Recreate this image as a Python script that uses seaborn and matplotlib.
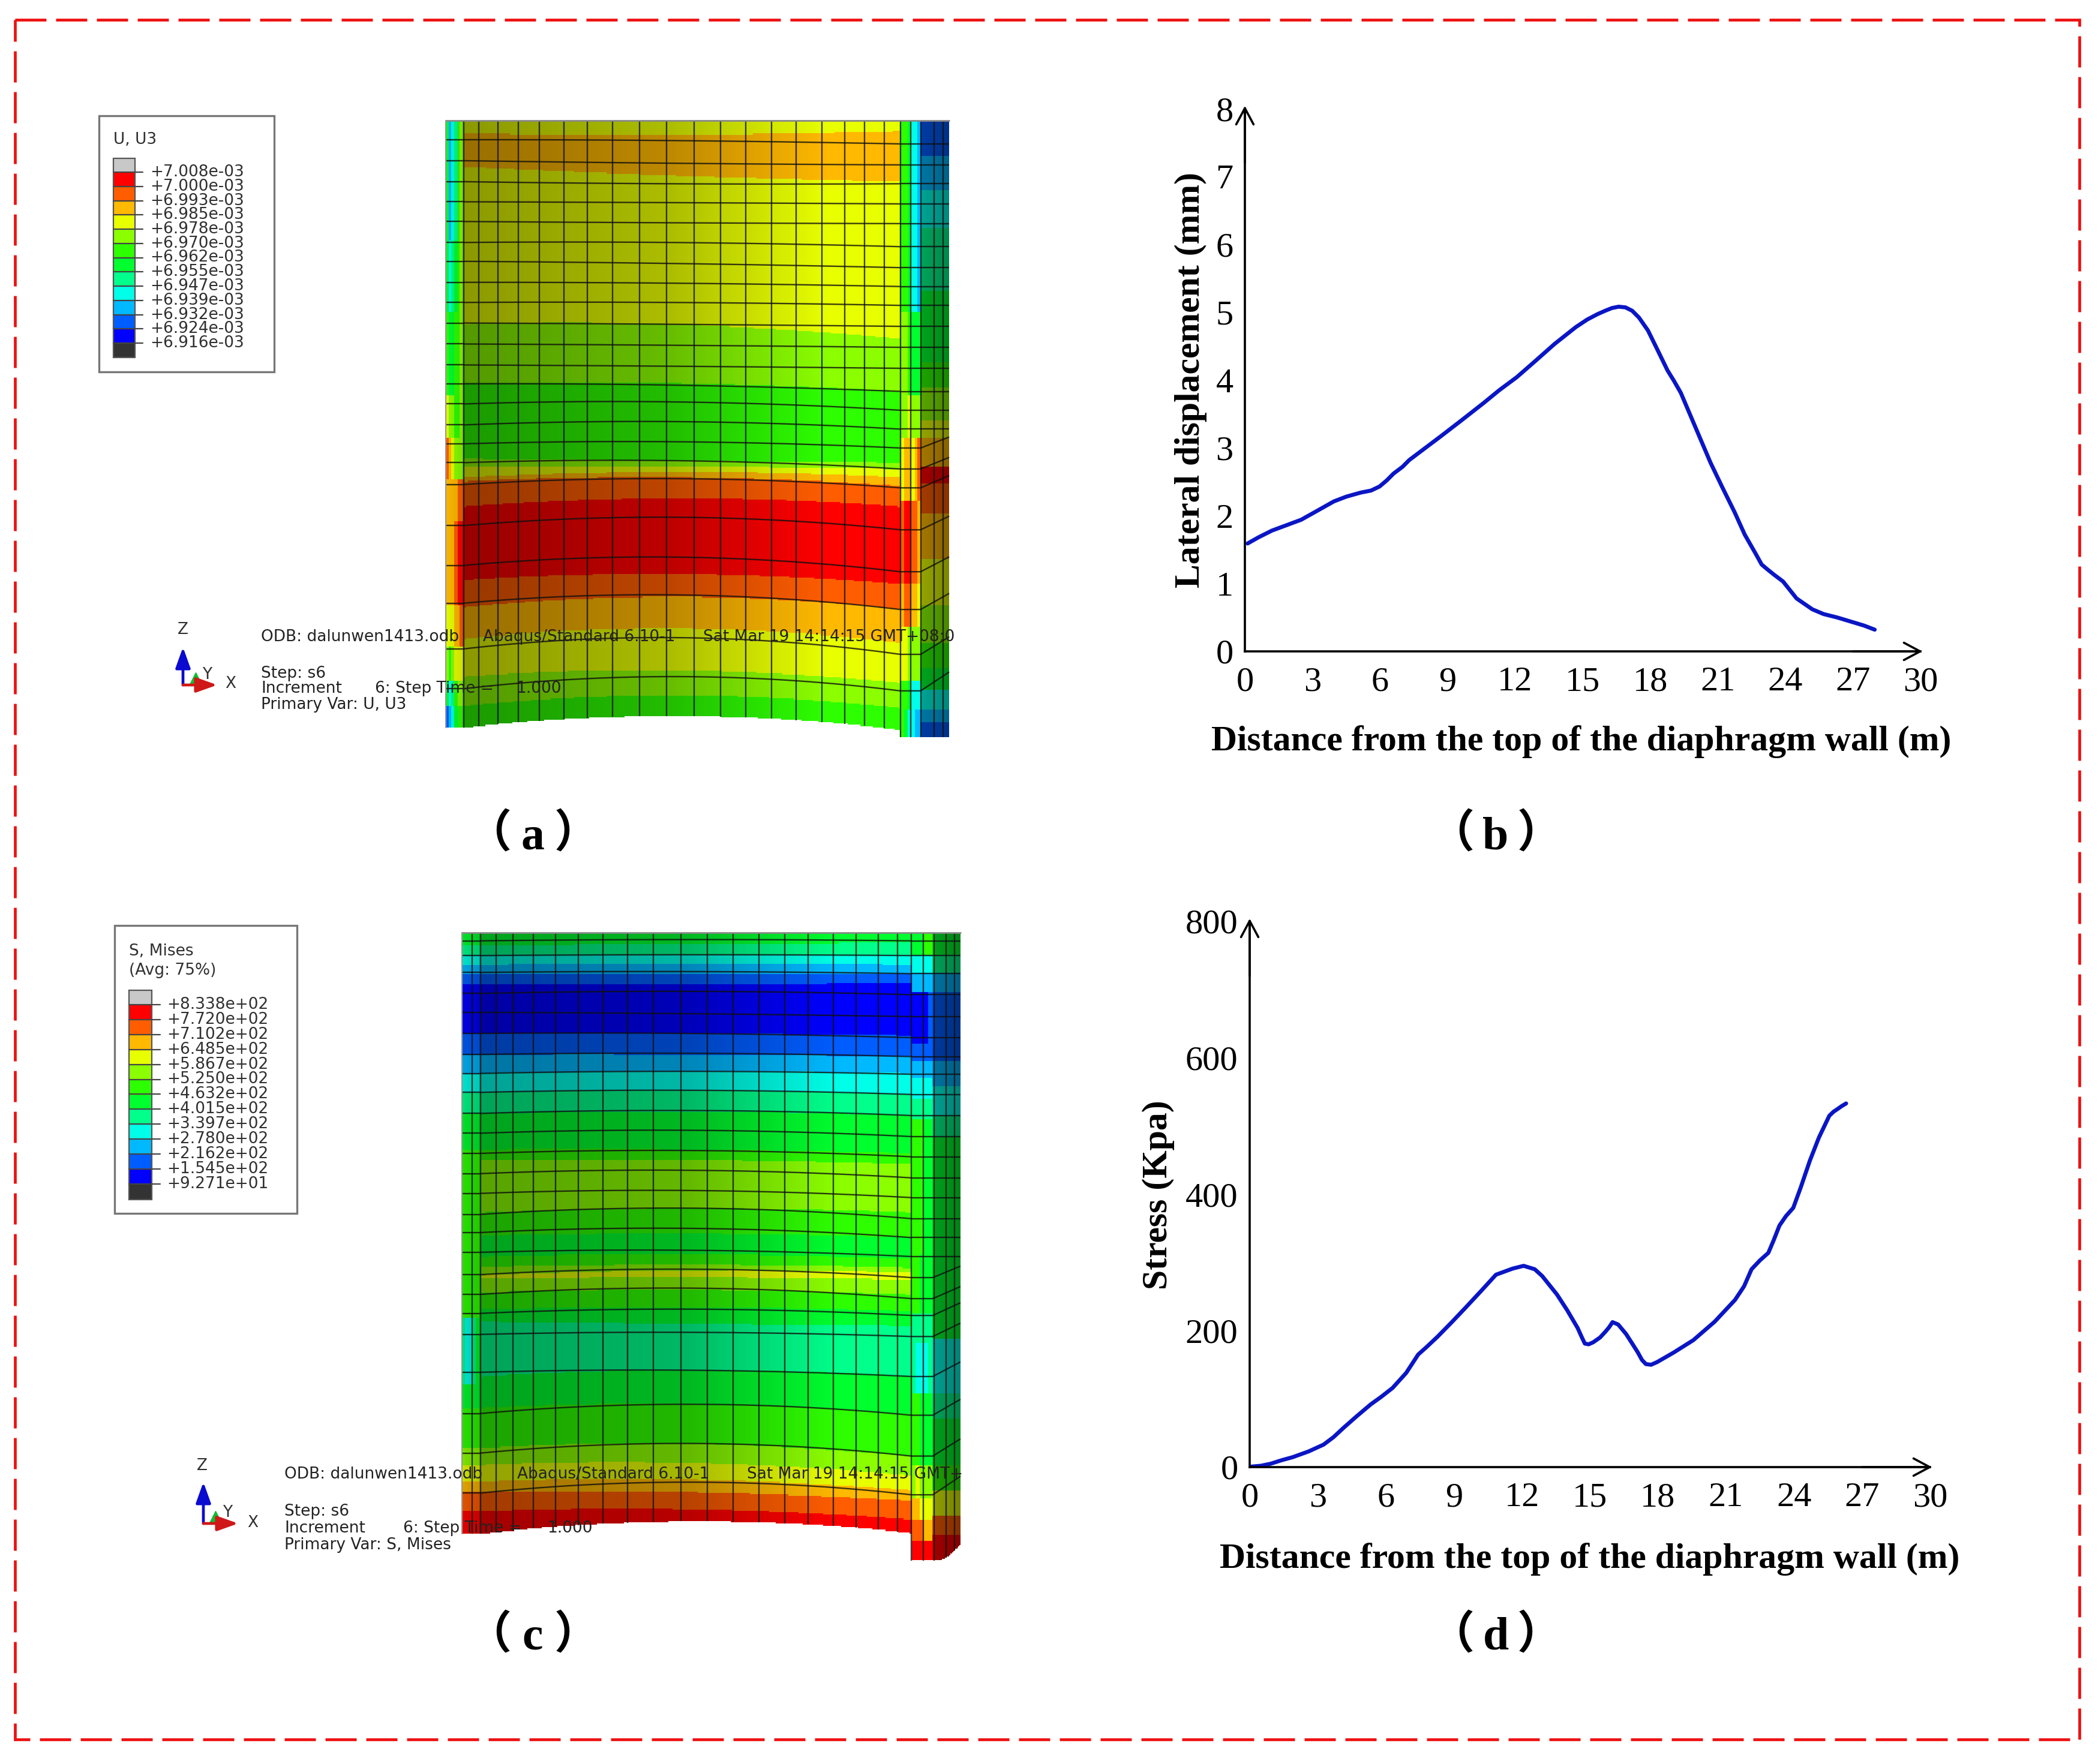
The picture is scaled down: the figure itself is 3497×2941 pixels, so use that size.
import numpy as np
import matplotlib
matplotlib.use("Agg")
import matplotlib.pyplot as plt
from matplotlib.colors import ListedColormap, LinearSegmentedColormap
from matplotlib.patches import Rectangle
import seaborn as sns

sns.set_theme(style="white")
plt.rcParams['font.family'] = ['Liberation Serif', 'DejaVu Sans']

# ---------- curve data ----------
dist_b = [0.12, 0.6, 1.2, 1.85, 2.5, 3.2, 3.95, 4.5, 5.14, 5.6, 5.98, 6.3, 6.6, 7.0, 7.3, 7.9, 8.7, 9.6, 10.6, 11.3,
          12.07, 12.9, 13.75, 14.7, 15.2, 15.66, 16.0, 16.3, 16.6, 16.9, 17.2, 17.5, 17.9, 18.3, 18.77, 19.05, 19.36,
          20.0, 20.68, 21.2, 21.75, 22.2, 22.7, 22.95, 23.2, 23.5, 23.9, 24.5, 25.2, 25.7, 26.3, 26.9, 27.5, 27.97]
disp_b = [1.59, 1.68, 1.78, 1.86, 1.94, 2.07, 2.21, 2.28, 2.34, 2.37, 2.43, 2.52, 2.62, 2.72, 2.82, 2.97, 3.17, 3.4, 3.66, 3.85,
          4.04, 4.28, 4.53, 4.78, 4.89, 4.97, 5.02, 5.06, 5.08, 5.07, 5.02, 4.92, 4.73, 4.46, 4.14, 3.99, 3.81,
          3.31, 2.78, 2.42, 2.05, 1.72, 1.43, 1.28, 1.21, 1.13, 1.03, 0.78, 0.62, 0.55, 0.5, 0.44, 0.38, 0.32]
dist_d = [0.07, 0.5, 0.93, 1.4, 1.9, 2.6, 3.26, 3.7, 4.12, 4.7, 5.34, 5.8, 6.3, 6.9, 7.43, 7.8, 8.28, 8.9, 9.5, 10.2,
          10.86, 11.6, 12.08, 12.57, 12.9, 13.55, 14.0, 14.46, 14.65, 14.78, 14.95, 15.15, 15.45, 15.7, 15.85, 16.0,
          16.25, 16.6, 17.1, 17.3, 17.47, 17.7, 17.97, 18.7, 19.56, 20.5, 21.4, 21.8, 22.13, 22.5, 22.87, 23.1, 23.36,
          23.65, 23.97, 24.3, 24.7, 25.1, 25.56, 25.75, 25.93, 26.1, 26.3]
stress_d = [0.7, 2, 5, 10, 14.6, 23, 33, 44, 57, 74, 92, 103, 116, 138, 165, 176, 191, 212, 233, 258,
            282, 291, 295, 290, 280, 253, 230, 204, 190, 181, 180, 183, 190, 199, 205, 212.5,
            209, 195, 169, 157, 151, 150, 154, 168, 186, 213, 245, 265, 290, 303, 314, 332, 354,
            368, 380, 410, 449, 483, 515, 521, 525, 529, 533]
xticks_all = [0, 3, 6, 9, 12, 15, 18, 21, 24, 27, 30]
yticks_b = [0, 1, 2, 3, 4, 5, 6, 7, 8]
yticks_d = [0, 200, 400, 600, 800]
xlabel_txt = "Distance from the top of the diaphragm wall (m)"

# ---------- contour legends ----------
abaqus_colors = ['#0000ff', '#005dff', '#00b9ff', '#00ffe8', '#00ff8b', '#00ff2e',
                 '#2eff00', '#8bff00', '#e8ff00', '#ffb900', '#ff5d00', '#ff0000']
legend_a = ['+7.008e-03', '+7.000e-03', '+6.993e-03', '+6.985e-03', '+6.978e-03', '+6.970e-03', '+6.962e-03',
            '+6.955e-03', '+6.947e-03', '+6.939e-03', '+6.932e-03', '+6.924e-03', '+6.916e-03']
legend_c = ['+8.338e+02', '+7.720e+02', '+7.102e+02', '+6.485e+02', '+5.867e+02', '+5.250e+02', '+4.632e+02',
            '+4.015e+02', '+3.397e+02', '+2.780e+02', '+2.162e+02', '+1.545e+02', '+9.271e+01']

# ---------- contour field (a): band level and its top edge at wall left / centre / right ----------
levels_a = [8, 9, 8, 7, 6, 7, 8, 9, 10, 11, 10, 9, 8, 7, 6]
edge_L_a = [45, 75, 155, 530, 670, 850, 870, 895, 905, 965, 1140, 1205, 1280, 1370, 1440, 1600]
edge_C_a = [45, 78, 175, 530, 670, 855, 870, 882, 895, 945, 1125, 1180, 1255, 1355, 1415, 1600]
edge_R_a = [45, 70, 190, 565, 690, 860, 875, 895, 915, 965, 1150, 1210, 1290, 1385, 1445, 1600]
left_x_a = [72, 80, 88, 96, 104, 112, 122]
left_y_a = [330, 500, 700, 800, 900, 1000, 1200, 1300, 1380, 1440, 1530]
left_lv_a = [[5, 2, 3, 4, 6, 7], [5, 3, 4, 5, 6, 7], [6, 5, 5, 6, 6, 7], [8, 7, 7, 6, 6, 7], [10, 9, 8, 7, 7, 7],
             [9, 9, 9, 9, 10, 10], [9, 9, 9, 10, 11, 11], [8, 8, 8, 9, 9, 10], [7, 6, 7, 8, 8, 8],
             [5, 3, 4, 6, 7, 7], [1, 2, 3, 5, 6, 6]]
front_x_a = [1345, 1355, 1365, 1375, 1385, 1393, 1402]
front_y_a = [500, 700, 800, 950, 1150, 1250, 1380, 1450, 1530]
front_lv_a = [[6, 6, 5, 3, 3, 2], [7, 7, 6, 5, 5, 5], [7, 7, 8, 7, 7, 7], [8, 9, 9, 8, 9, 10], [10, 11, 11, 10, 10, 9],
              [9, 10, 10, 9, 9, 8], [8, 8, 7, 7, 7, 7], [6, 6, 5, 3, 3, 3], [6, 5, 3, 3, 2, 2]]
side_x_a = [1402, 1490]
side_y_a = [130, 210, 300, 450, 620, 680, 760, 800, 870, 910, 980, 1090, 1200, 1290, 1350, 1400, 1450, 1480, 1530]
side_lv_a = [[1], [2], [3], [4], [5], [6], [7], [8], [9], [11], [10], [9], [8], [7], [6], [5], [3], [2], [1]]
shade_x_a = [60, 121, 122, 700, 1150, 1345, 1402, 1403, 1490]
shade_v_a = [0.0, 0.12, 0.40, 0.26, 0.0, 0.0, 0.0, 0.36, 0.48]
bottom_a = [1492, 1464, 1497]
vert_a = [122, 165, 218, 275, 335, 403, 468, 540, 615, 690, 767, 842, 912, 985, 1053, 1125, 1190, 1245, 1300, 1345]
vert_side_a = [1375, 1402, 1440, 1465]
hor_L_a = [90, 140, 190, 238, 285, 335, 380, 430, 478, 527, 577, 627, 672, 720, 770, 815, 860, 912, 1010, 1105, 1195, 1304, 1399]
hor_C_a = [92, 146, 195, 240, 288, 335, 385, 432, 478, 530, 580, 630, 675, 715, 762, 810, 855, 898, 990, 1085, 1175, 1277, 1370]
hor_R_a = [100, 150, 195, 243, 290, 345, 395, 440, 485, 535, 585, 635, 690, 735, 780, 825, 875, 920, 1020, 1120, 1210, 1317, 1404]

# ---------- contour field (c) ----------
levels_c = [5, 4, 3, 2, 1, 0, 1, 2, 3, 4, 5, 6, 7, 6, 5, 6, 7, 8, 7, 6, 5, 4, 5, 6, 7, 8, 9, 10, 11]
edge_L_c = [35, 65, 90, 112, 135, 158, 275, 325, 370, 415, 465, 550, 575, 700, 755, 805, 830, 850, 858, 890, 930, 960, 1090, 1165, 1260, 1300, 1340, 1365, 1410, 1600]
edge_C_c = [35, 62, 88, 110, 135, 158, 275, 325, 365, 410, 460, 550, 575, 690, 750, 800, 825, 838, 855, 885, 925, 965, 1075, 1155, 1250, 1295, 1335, 1365, 1405, 1600]
edge_R_c = [35, 60, 90, 112, 135, 155, 280, 330, 370, 420, 470, 560, 585, 700, 760, 810, 832, 843, 860, 895, 935, 970, 1090, 1180, 1280, 1325, 1360, 1385, 1430, 1600]
left_x_c = [52, 62, 72, 82, 92, 105]
left_y_c = [560, 950, 1110, 1530]
left_lv_c = [[None] * 5, [6, 6, 6, 6, 6], [4, 3, 3, 4, 5], [None] * 5]
front_x_c = [1350, 1362, 1374, 1386, 1398, 1412]
front_y_c = [90, 130, 175, 300, 340, 380, 430, 480, 800, 940, 1010, 1130, 1300, 1380, 1430, 1480, 1530]
front_lv_c = [[5, 5, 5, 6, 6], [3, 3, 3, 3, 3], [2, 2, 2, 2, 2], [0, 0, 0, 0, 1], [1, 1, 1, 1, 1], [2, 2, 2, 2, 2],
              [3, 3, 3, 3, 3], [4, 4, 4, 4, 4], [6, 6, 6, 5, 5], [6, 6, 5, 5, 5], [4, 4, 4, 4, 4], [4, 3, 3, 3, 4],
              [6, 6, 5, 5, 5], [7, 8, 7, 7, 7], [9, 9, 8, 8, 8], [10, 10, 10, 9, 9], [11, 11, 11, 11, 11]]
side_x_c = [1412, 1500]
side_y_c = [90, 130, 175, 340, 400, 470, 520, 780, 1000, 1130, 1190, 1300, 1360, 1420, 1465, 1530]
side_lv_c = [[5], [4], [2], [1], [2], [3], [4], [5], [5], [3], [4], [5], [6], [8], [10], [11]]
shade_x_c = [40, 104, 105, 700, 1150, 1350, 1412, 1413, 1500]
shade_v_c = [0.10, 0.22, 0.36, 0.28, 0.0, 0.0, 0.0, 0.38, 0.50]
bottom_c = [1464, 1434, 1462]
vert_c = [105, 150, 200, 258, 322, 388, 460, 530, 605, 685, 760, 835, 910, 985, 1052, 1125, 1190, 1255, 1310, 1350]
vert_left_c = [82]
vert_side_c = [1385, 1415, 1450, 1475]
hor_L_c = [55, 90, 130, 180, 225, 275, 325, 370, 415, 465, 512, 560, 608, 655, 705, 748, 795, 848, 895, 940, 990, 1080, 1178, 1272, 1367]
hor_C_c = [52, 88, 128, 175, 228, 275, 322, 365, 410, 458, 505, 553, 600, 648, 690, 738, 790, 835, 880, 930, 985, 1075, 1156, 1249, 1341]
hor_R_c = [55, 90, 133, 183, 235, 285, 330, 372, 420, 470, 520, 568, 618, 665, 715, 760, 805, 855, 905, 945, 995, 1090, 1182, 1279, 1371]

W, H = 3497, 2941
fig = plt.figure(figsize=(W / 100, H / 100), dpi=100, facecolor='white')


def px_axes(x0, y0, x1, y1, **kw):
    return fig.add_axes([x0 / W, 1 - y1 / H, (x1 - x0) / W, (y1 - y0) / H], **kw)


level_cmap = ListedColormap(abaqus_colors)
shade_cmap = LinearSegmentedColormap.from_list('shade', [(0, 0, 0, 0), (0, 0, 0, 1)])
STEP = 3


def apply_table(field, xg, yg, xs, ys, lv):
    top = -1e9
    for row, yend in zip(lv, ys):
        for k, v in enumerate(row):
            if v is None:
                continue
            m = np.ix_((yg >= top) & (yg < yend), (xg >= xs[k]) & (xg < xs[k + 1]))
            field[m] = v + 0.5
        top = yend


def draw_wall(box, sx, sy, ox, oy, anchors, levels, eL, eC, eR, tables, shade_x, shade_v, bottom, top_y,
              x_left, x_right, flange_bottom, vert, vert_extra, hL, hC, hR, flange_x):
    x0, x1, y0, y1 = box
    xg = np.arange(x0, x1, STEP) + STEP / 2
    yg = np.arange(y0, y1, STEP) + STEP / 2
    ax = px_axes(ox + x0 / sx, oy + y0 / sy, ox + x1 / sx, oy + y1 / sy)
    coef = np.polyfit(anchors, np.array([eL, eC, eR]), 2)
    xc = np.clip(xg, anchors[0], anchors[2])
    edges = np.array([np.polyval(coef[:, i], xc) for i in range(coef.shape[1])])
    field = np.full((len(yg), len(xg)), np.nan)
    lv = np.array(levels)
    for j in range(len(xg)):
        idx = np.clip(np.searchsorted(edges[:, j], yg, side='right') - 1, 0, len(lv) - 1)
        field[:, j] = lv[idx] + 0.5
    for t in tables:
        apply_table(field, xg, yg, *t)
    bcoef = np.polyfit(anchors, bottom, 2)
    bot = np.polyval(bcoef, xc)
    bot = np.where(xg >= anchors[2], flange_bottom(xg), bot)
    for j in range(len(xg)):
        field[(yg > bot[j]) | (yg < top_y), j] = np.nan
        if xg[j] < x_left or xg[j] > x_right:
            field[:, j] = np.nan
    shade = np.interp(xg, shade_x, shade_v)[None, :].repeat(len(yg), axis=0)
    shade[np.isnan(field)] = np.nan
    sns.heatmap(field, ax=ax, cmap=level_cmap, vmin=0, vmax=12, cbar=False, xticklabels=False, yticklabels=False)
    sns.heatmap(shade, ax=ax, cmap=shade_cmap, vmin=0, vmax=1, cbar=False, xticklabels=False, yticklabels=False)
    ax.patch.set_alpha(0)
    ax.set_xlim(0, len(xg))
    ax.set_ylim(len(yg), 0)
    tx = lambda v: (np.asarray(v, float) - x0) / STEP
    ty = lambda v: (np.asarray(v, float) - y0) / STEP
    lk = dict(color='#101010', lw=1.7, alpha=0.8, solid_capstyle='butt')
    for v in list(vert) + list(vert_extra):
        c = min(max(v, anchors[0]), anchors[2])
        b = np.polyval(bcoef, c) if v < anchors[2] else float(flange_bottom(np.array([v]))[0])
        ax.plot(tx([v, v]), ty([top_y, b]), **lk)
    hcoef = np.polyfit(anchors, np.array([hL, hC, hR]), 2)
    xl = np.linspace(anchors[0], anchors[2], 40)
    for i in range(hcoef.shape[1]):
        yy = np.polyval(hcoef[:, i], xl)
        ax.plot(tx(xl), ty(yy), **lk)
        ax.plot(tx([x_left, anchors[0]]), ty([yy[0], yy[0]]), **lk)
        rise = 45 * hL[i] / 1400 if hL[i] > 800 else 0
        ax.plot(tx([anchors[2], flange_x, x_right]), ty([yy[-1], yy[-1], yy[-1] - rise]), **lk)
    ax.plot(tx([x_left, x_right]), ty([top_y, top_y]), color='#888888', lw=2)
    ax.plot(tx([x_left, x_left]), ty([top_y, bottom[0]]), color='#999999', lw=1.5)
    return ax


draw_wall((60, 1500, 30, 1530), 1.68, 1.43, 700, 170, [122, 700, 1345], levels_a, edge_L_a, edge_C_a, edge_R_a,
          [(left_x_a, left_y_a, left_lv_a), (front_x_a, front_y_a, front_lv_a), (side_x_a, side_y_a, side_lv_a)],
          shade_x_a, shade_v_a, bottom_a, 45, 72, 1482, lambda x: np.full_like(x, 1515.0, dtype=float),
          vert_a, vert_side_a, hor_L_a, hor_C_a, hor_R_a, 1402)
draw_wall((40, 1510, 20, 1540), 1.733, 1.424, 740, 1530, [105, 700, 1350], levels_c, edge_L_c, edge_C_c, edge_R_c,
          [(left_x_c, left_y_c, left_lv_c), (front_x_c, front_y_c, front_lv_c), (side_x_c, side_y_c, side_lv_c)],
          shade_x_c, shade_v_c, bottom_c, 35, 52, 1492,
          lambda x: 1527 - 38 * np.clip((x - 1420) / 70, 0, 1) ** 2,
          vert_c, vert_left_c + vert_side_c, hor_L_c, hor_C_c, hor_R_c, 1412)

# ---------- contour legends ----------
full_cmap = ListedColormap(['#333333'] + abaqus_colors + ['#c8c8c8'])
bar_vals = np.arange(13, -1, -1)[:, None] + 0.5
for (bx0, bx1, by0, by1) in [(189, 225, 264, 596), (215, 253, 1651, 2000)]:
    cax = px_axes(bx0, by0, bx1, by1)
    sns.heatmap(bar_vals, ax=cax, cmap=full_cmap, vmin=0, vmax=14, cbar=False, xticklabels=False, yticklabels=False)

# ---------- curves ----------
line_kw = dict(color='#0a16c4', lw=4.8, errorbar=None, sort=False)
for box, xs, ys, xmax, ymax, yt in [((2075, 181, 3201, 1086), dist_b, disp_b, 30, 8, yticks_b),
                                    ((2083, 1536, 3217, 2446), dist_d, stress_d, 30, 800, yticks_d)]:
    ax = px_axes(box[0], box[1], box[2], box[3])
    sns.lineplot(x=xs, y=ys, ax=ax, **line_kw)
    ax.set_xlim(0, xmax)
    ax.set_ylim(0, ymax)
    ax.set_xticks(xticks_all)
    ax.set_yticks(yt)
    ax.tick_params(axis='x', length=0, pad=18, labelsize=42, colors='black')
    ax.tick_params(axis='y', length=0, pad=14, labelsize=42, colors='black')
    for lab in ax.get_xticklabels() + ax.get_yticklabels():
        lab.set_fontfamily('Liberation Serif')
    sns.despine(ax=ax)
    ax.spines['left'].set_linewidth(2.6)
    ax.spines['bottom'].set_linewidth(2.6)
    ax.spines['left'].set_color('black')
    ax.spines['bottom'].set_color('black')
    ax.patch.set_alpha(0)
    ax.grid(False)
    arrow = dict(arrowstyle='->,head_length=0.75,head_width=0.4', color='black', lw=2.6, mutation_scale=26,
                 shrinkA=0, shrinkB=0)
    ax.annotate('', xy=(0, 1.005), xytext=(0, 0.9), xycoords='axes fraction', arrowprops=arrow, annotation_clip=False)
    ax.annotate('', xy=(1.003, 0), xytext=(0.9, 0), xycoords='axes fraction', arrowprops=arrow, annotation_clip=False)

# ---------- overlay: frame, texts ----------
ov = fig.add_axes([0, 0, 1, 1], zorder=10)
ov.set_xlim(0, W)
ov.set_ylim(H, 0)
ov.axis('off')
ov.patch.set_alpha(0)
ov.add_patch(Rectangle((25, 33), 3441, 2867, fill=False, ec='#ee1111', lw=3.4, linestyle=(0, (11, 3.4))))

bold = dict(family='Liberation Serif', fontweight='bold', color='black', ha='center', va='center', fontsize=43)
ov.text(2636, 1237, xlabel_txt, **bold)
ov.text(2650, 2600, xlabel_txt, **bold)
ov.text(1985, 634, "Lateral displacement (mm)", rotation=90, **bold)
ov.text(1931, 1992, "Stress (Kpa)", rotation=90, **bold)

letter = dict(family='Liberation Serif', fontweight='bold', color='black', ha='center', va='baseline', fontsize=56)
paren = dict(family='Noto Sans CJK SC', fontweight='bold', color='black', va='center', fontsize=54)
for s, x, y in [("a", 888, 1415), ("b", 2493, 1415), ("c", 888, 2750), ("d", 2493, 2750)]:
    ov.text(x, y, s, **letter)
    ov.text(x - 36, y - 24, "（", ha='right', **paren)
    ov.text(x + 36, y - 24, "）", ha='left', **paren)

small = dict(family='DejaVu Sans', color='#303030', ha='left', va='center', fontsize=19)
legend_boxes = [
    dict(rect=(165, 193, 292, 427), bar=(189, 225), ticks=legend_a, t0=287, dt=23.75, tick_end=238, lab=250,
         title=[("U, U3", 189, 233)]),
    dict(rect=(191, 1543, 304, 480), bar=(215, 253), ticks=legend_c, t0=1675, dt=24.9, tick_end=267, lab=278,
         title=[("S, Mises", 215, 1586), ("(Avg: 75%)", 215, 1618)]),
]
for lb in legend_boxes:
    r = lb['rect']
    ov.add_patch(Rectangle((r[0], r[1]), r[2], r[3], fill=False, ec='#777777', lw=2.4, zorder=1))
    for s, x, y in lb['title']:
        ov.text(x, y, s, **small)
    ov.add_patch(Rectangle((lb['bar'][0], 264 if r[1] < 1000 else 1651), lb['bar'][1] - lb['bar'][0],
                           (596 - 264) if r[1] < 1000 else (2000 - 1651), fill=False, ec='#555555', lw=1.6))
    for i, s in enumerate(lb['ticks']):
        y = lb['t0'] + i * lb['dt']
        ov.plot([lb['bar'][0], lb['tick_end']], [y, y], color='#444444', lw=1.6)
        ov.text(lb['lab'], y, s, **small)

fe = dict(small)
fe['color'] = '#222222'
fe_texts = [
    ("ODB: dalunwen1413.odb", 435, 1062), ("Abaqus/Standard 6.10-1", 805, 1062),
    ("Sat Mar 19 14:14:15 GMT+08:0", 1172, 1062), ("Step: s6", 435, 1123), ("Increment", 435, 1148),
    ("6: Step Time =", 625, 1148), ("1.000", 860, 1148), ("Primary Var: U, U3", 435, 1175),
    ("ODB: dalunwen1413.odb", 474, 2458), ("Abaqus/Standard 6.10-1", 862, 2458),
    ("Sat Mar 19 14:14:15 GMT+", 1245, 2458), ("Step: s6", 474, 2520), ("Increment", 474, 2548),
    ("6: Step Time =", 672, 2548), ("1.000", 912, 2548), ("Primary Var: S, Mises", 474, 2576),
]
for s, x, y in fe_texts:
    ov.text(x, y, s, **fe)

triads = [((305, 1142), (305, 1079), (362, 1142), (326, 1131), (305, 1050), (345, 1125), (384, 1140)),
          ((339, 2540), (339, 2471), (397, 2540), (359, 2529), (337, 2444), (379, 2522), (421, 2539))]
for o, zt, xt, g, zl, yl, xl in triads:
    ov.plot([g[0]], [g[1]], marker='^', color='#11bb33', ms=14, zorder=3)
    ov.annotate('', xy=zt, xytext=o, arrowprops=dict(arrowstyle='-|>,head_length=0.7,head_width=0.25', color='#0a0ad0',
                                                     lw=3.4, mutation_scale=30, shrinkA=0, shrinkB=0))
    ov.annotate('', xy=xt, xytext=o, arrowprops=dict(arrowstyle='-|>,head_length=0.7,head_width=0.25', color='#d01818',
                                                     lw=3.4, mutation_scale=30, shrinkA=0, shrinkB=0))
    t = dict(small)
    t['ha'] = 'center'
    ov.text(zl[0], zl[1], 'Z', **t)
    ov.text(yl[0], yl[1], 'Y', **t)
    ov.text(xl[0], xl[1], 'X', **t)

fig.savefig('out.png', dpi=100, facecolor='white')
